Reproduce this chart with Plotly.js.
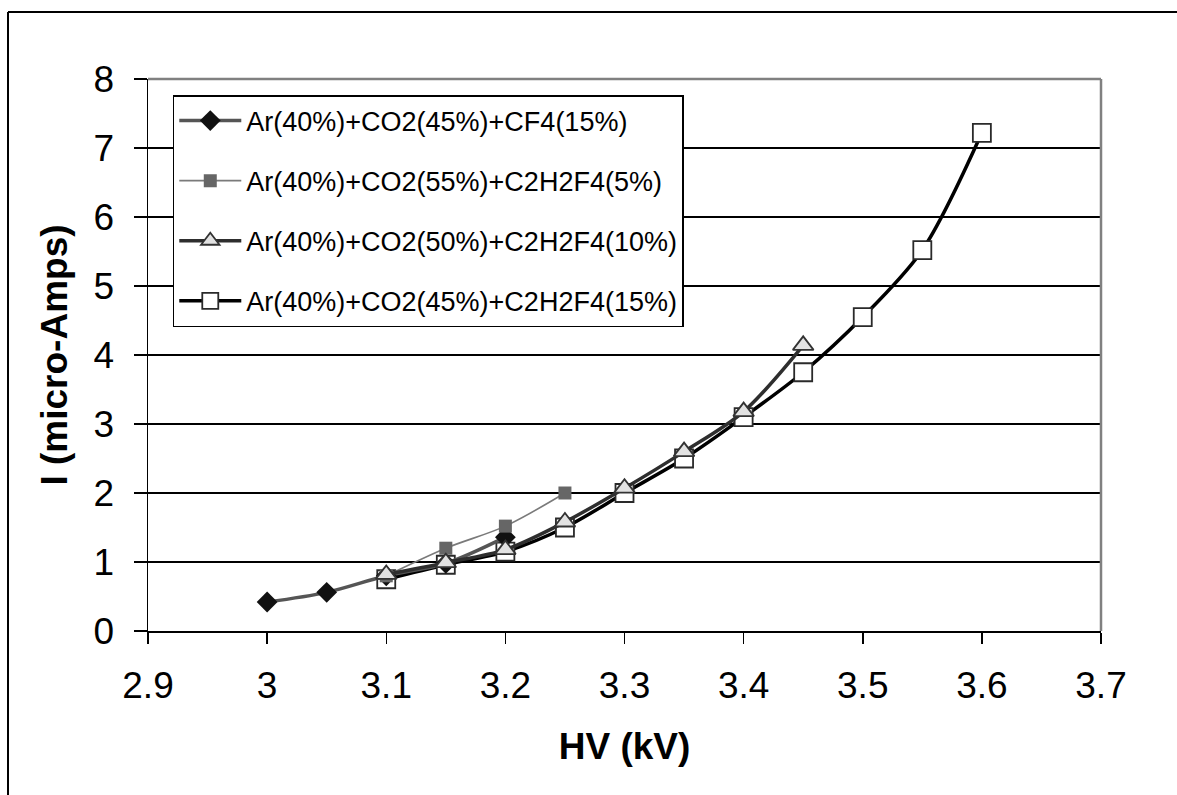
<!DOCTYPE html>
<html>
<head>
<meta charset="utf-8">
<script src="https://cdn.plot.ly/plotly-3.0.1.min.js"></script>
<style>
  html, body { margin: 0; padding: 0; background: #ffffff; }
  #chart { width: 1177px; height: 795px; }
</style>
</head>
<body>
<div id="chart"></div>
<script>
// Anode current versus high voltage for four gas mixtures
const seriesNames = [
  'Ar(40%)+CO2(45%)+CF4(15%)',
  'Ar(40%)+CO2(55%)+C2H2F4(5%)',
  'Ar(40%)+CO2(50%)+C2H2F4(10%)',
  'Ar(40%)+CO2(45%)+C2H2F4(15%)'
];

const hvCF4_15 = [3.0, 3.05, 3.1, 3.15, 3.2];
const iCF4_15 = [0.42, 0.56, 0.8, 0.98, 1.36];

const hvR134_5 = [3.1, 3.15, 3.2, 3.25];
const iR134_5 = [0.8, 1.2, 1.52, 2.0];

const hvR134_10 = [3.1, 3.15, 3.2, 3.25, 3.3, 3.35, 3.4, 3.45];
const iR134_10 = [0.82, 0.99, 1.18, 1.58, 2.07, 2.6, 3.18, 4.14];

const hvR134_15 = [3.1, 3.15, 3.2, 3.25, 3.3, 3.35, 3.4, 3.45, 3.5, 3.55, 3.6];
const iR134_15 = [0.75, 0.96, 1.15, 1.5, 2.0, 2.5, 3.1, 3.75, 4.55, 5.52, 7.22];

const xTicks = [2.9, 3.0, 3.1, 3.2, 3.3, 3.4, 3.5, 3.6, 3.7];
const xTickText = ['2.9', '3', '3.1', '3.2', '3.3', '3.4', '3.5', '3.6', '3.7'];
const yTicks = [0, 1, 2, 3, 4, 5, 6, 7, 8];

const FONT = 'Liberation Sans, Arial, sans-serif';

const traceR134_15 = {
  x: hvR134_15, y: iR134_15, name: seriesNames[3], legendgroup: 'g4', legendrank: 4,
  mode: 'lines+markers', type: 'scatter',
  line: { color: '#000000', width: 3.5, shape: 'spline', smoothing: 0.9 },
  marker: { symbol: 'square', size: 18, color: '#ffffff', line: { color: '#2a2a2a', width: 1.8 } }
};
const traceCF4_15 = {
  x: hvCF4_15, y: iCF4_15, name: seriesNames[0], legendgroup: 'g1', legendrank: 1,
  mode: 'lines+markers', type: 'scatter',
  line: { color: '#555555', width: 3.5, shape: 'spline', smoothing: 0.9 },
  marker: { symbol: 'diamond', size: 16, color: '#111111', line: { color: '#111111', width: 0 } }
};
const traceR134_5 = {
  x: hvR134_5, y: iR134_5, name: seriesNames[1], legendgroup: 'g2', legendrank: 2,
  mode: 'lines+markers', type: 'scatter',
  line: { color: '#7a7a7a', width: 1.6, shape: 'spline', smoothing: 0.9 },
  marker: { symbol: 'square', size: 13, color: '#666666', line: { width: 0 } }
};
const traceR134_10 = {
  x: hvR134_10, y: iR134_10, name: seriesNames[2], legendgroup: 'g3', legendrank: 3,
  mode: 'lines+markers', type: 'scatter',
  line: { color: '#2e2e2e', width: 3.5, shape: 'spline', smoothing: 0.9 },
  marker: { symbol: 'triangle-up', size: 18, color: '#e2e2e2', line: { color: '#333333', width: 1.8 } }
};

const layout = {
  width: 1177, height: 795,
  paper_bgcolor: '#ffffff', plot_bgcolor: '#ffffff',
  margin: { l: 148, r: 76, t: 79, b: 164 },
  font: { family: FONT, color: '#000000' },
  showlegend: true,
  legend: {
    x: 0.026, y: 0.971, xanchor: 'left', yanchor: 'top',
    bgcolor: '#ffffff', bordercolor: '#000000', borderwidth: 1.5,
    font: { family: FONT, size: 27, color: '#000000' },
    tracegroupgap: 22, traceorder: 'grouped', itemwidth: 62
  },
  xaxis: {
    range: [2.9, 3.7], tickmode: 'array', tickvals: xTicks, ticktext: xTickText,
    showgrid: false, zeroline: false,
    showline: true, linecolor: '#000000', linewidth: 1.5,
    ticks: 'outside', ticklen: 11, tickwidth: 1.5, tickcolor: '#000000',
    ticklabelstandoff: 10,
    tickfont: { family: FONT, size: 37, color: '#000000' },
    title: { text: '<b>HV (kV)</b>', font: { family: FONT, size: 37, color: '#000000' }, standoff: 28 }
  },
  yaxis: {
    range: [0, 8], tickmode: 'array', tickvals: yTicks,
    showgrid: true, gridcolor: '#000000', gridwidth: 1.5, zeroline: false,
    showline: true, linecolor: '#000000', linewidth: 1.5,
    ticks: 'outside', ticklen: 13, tickwidth: 1.5, tickcolor: '#000000',
    ticklabelstandoff: 12,
    tickfont: { family: FONT, size: 37, color: '#000000' },
    title: { text: '<b>I (micro-Amps)</b>', font: { family: FONT, size: 37, color: '#000000' }, standoff: 14 }
  },
  shapes: [
    // grey top and right edges of the plotting area
    { type: 'line', xref: 'paper', yref: 'paper', x0: 0, x1: 1, y0: 1, y1: 1,
      line: { color: '#808080', width: 2.5 }, layer: 'above' },
    { type: 'line', xref: 'paper', yref: 'paper', x0: 1, x1: 1, y0: 0, y1: 1,
      line: { color: '#808080', width: 2.5 }, layer: 'above' },
    // outer chart frame (left and top edges fall inside the page)
    { type: 'line', xref: 'paper', yref: 'paper', x0: -0.1469, x1: -0.1469, y0: -0.5, y1: 1.1214,
      line: { color: '#000000', width: 2 }, layer: 'below' },
    { type: 'line', xref: 'paper', yref: 'paper', x0: -0.1469, x1: 1.3, y0: 1.1214, y1: 1.1214,
      line: { color: '#000000', width: 2 }, layer: 'below' }
  ]
};

Plotly.newPlot('chart', [traceR134_15, traceCF4_15, traceR134_5, traceR134_10], layout,
  { displayModeBar: false, staticPlot: true });
</script>
</body>
</html>
